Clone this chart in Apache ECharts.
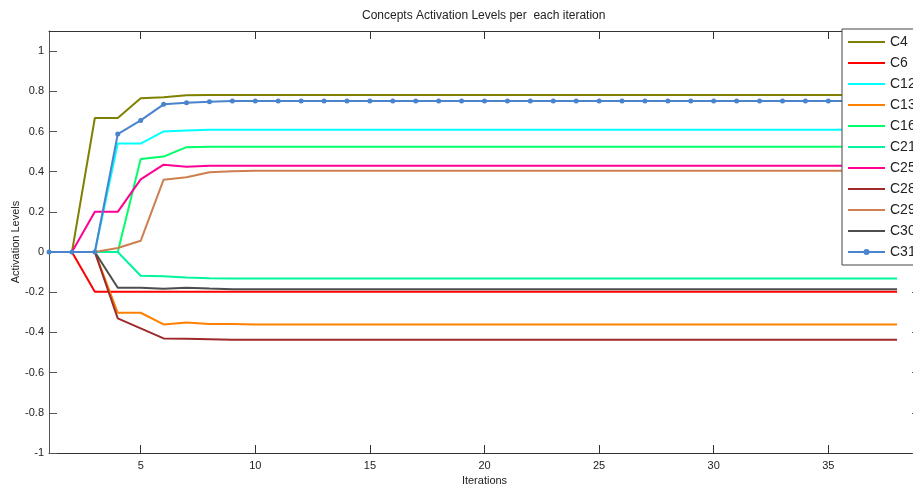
<!DOCTYPE html>
<html>
<head>
<meta charset="utf-8">
<script src="https://cdn.jsdelivr.net/npm/echarts@6/dist/echarts.min.js"></script>
<style>
html,body{margin:0;padding:0;background:#fff;}
#chart{width:913px;height:486px;}
</style>
</head>
<body>
<div id="chart"></div>
<script>
var iterations = [1,2,3,4,5,6,7,8,9,10,11,12,13,14,15,16,17,18,19,20,21,22,23,24,25,26,27,28,29,30,31,32,33,34,35,36,37,38];

var xTicks = [5,10,15,20,25,30,35];
var yTicks = [-1,-0.8,-0.6,-0.4,-0.2,0,0.2,0.4,0.6,0.8,1];

var C4 = [0,0,0.667,0.667,0.765,0.77,0.78,0.782,
  0.782,0.782,0.782,0.782,0.782,0.782,0.782,0.782,0.782,0.782,
  0.782,0.782,0.782,0.782,0.782,0.782,0.782,0.782,0.782,0.782,
  0.782,0.782,0.782,0.782,0.782,0.782,0.782,0.782,0.782,0.782];
var C6 = [0,0,-0.197,
  -0.197,-0.197,-0.197,-0.197,-0.197,-0.197,-0.197,-0.197,-0.197,-0.197,
  -0.197,-0.197,-0.197,-0.197,-0.197,-0.197,-0.197,-0.197,-0.197,-0.197,
  -0.197,-0.197,-0.197,-0.197,-0.197,-0.197,-0.197,-0.197,-0.197,-0.197,
  -0.197,-0.197,-0.197,-0.197,-0.197];
var C12 = [0,0,0,0.54,0.54,0.6,0.605,0.608,
  0.608,0.608,0.608,0.608,0.608,0.608,0.608,0.608,0.608,0.608,
  0.608,0.608,0.608,0.608,0.608,0.608,0.608,0.608,0.608,0.608,
  0.608,0.608,0.608,0.608,0.608,0.608,0.608,0.608,0.608,0.608];
var C13 = [0,0,0,-0.302,-0.302,-0.36,-0.35,-0.358,-0.358,
  -0.36,-0.36,-0.36,-0.36,-0.36,-0.36,-0.36,-0.36,-0.36,-0.36,
  -0.36,-0.36,-0.36,-0.36,-0.36,-0.36,-0.36,-0.36,-0.36,-0.36,
  -0.36,-0.36,-0.36,-0.36,-0.36,-0.36,-0.36,-0.36,-0.36];
var C16 = [0,0,0,0,0.463,0.475,0.522,0.524,
  0.524,0.524,0.524,0.524,0.524,0.524,0.524,0.524,0.524,0.524,
  0.524,0.524,0.524,0.524,0.524,0.524,0.524,0.524,0.524,0.524,
  0.524,0.524,0.524,0.524,0.524,0.524,0.524,0.524,0.524,0.524];
var C21 = [0,0,0,0,-0.118,-0.12,-0.127,-0.13,
  -0.132,-0.132,-0.132,-0.132,-0.132,-0.132,-0.132,-0.132,-0.132,-0.132,
  -0.132,-0.132,-0.132,-0.132,-0.132,-0.132,-0.132,-0.132,-0.132,-0.132,
  -0.132,-0.132,-0.132,-0.132,-0.132,-0.132,-0.132,-0.132,-0.132,-0.132];
var C25 = [0,0,0.2,0.2,0.362,0.435,0.425,0.43,
  0.43,0.43,0.43,0.43,0.43,0.43,0.43,0.43,0.43,0.43,
  0.43,0.43,0.43,0.43,0.43,0.43,0.43,0.43,0.43,0.43,
  0.43,0.43,0.43,0.43,0.43,0.43,0.43,0.43,0.43,0.43];
var C28 = [0,0,0,-0.33,-0.38,-0.43,-0.432,-0.434,-0.436,
  -0.437,-0.437,-0.437,-0.437,-0.437,-0.437,-0.437,-0.437,-0.437,-0.437,
  -0.437,-0.437,-0.437,-0.437,-0.437,-0.437,-0.437,-0.437,-0.437,-0.437,
  -0.437,-0.437,-0.437,-0.437,-0.437,-0.437,-0.437,-0.437,-0.437];
var C29 = [0,0,0,0.02,0.056,0.36,0.372,0.397,0.402,
  0.405,0.405,0.405,0.405,0.405,0.405,0.405,0.405,0.405,0.405,
  0.405,0.405,0.405,0.405,0.405,0.405,0.405,0.405,0.405,0.405,
  0.405,0.405,0.405,0.405,0.405,0.405,0.405,0.405,0.405];
var C30 = [0,0,0,-0.178,-0.178,-0.183,-0.178,-0.182,-0.185,
  -0.185,-0.185,-0.185,-0.185,-0.185,-0.185,-0.185,-0.185,-0.185,-0.185,
  -0.185,-0.185,-0.185,-0.185,-0.185,-0.185,-0.185,-0.185,-0.185,-0.185,
  -0.185,-0.185,-0.185,-0.185,-0.185,-0.185,-0.185,-0.185,-0.185];
var C31 = [0,0,0,0.587,0.655,0.735,0.743,0.748,0.752,
  0.752,0.752,0.752,0.752,0.752,0.752,0.752,0.752,0.752,0.752,
  0.752,0.752,0.752,0.752,0.752,0.752,0.752,0.752,0.752,0.752,
  0.752,0.752,0.752,0.752,0.752,0.752,0.752,0.752,0.752];

var seriesNames = ['C4','C6','C12','C13','C16','C21','C25','C28','C29','C30','C31'];
var seriesValues = [C4,C6,C12,C13,C16,C21,C25,C28,C29,C30,C31];
var seriesColors = ['#808000','#ff0000','#00ffff','#ff8000','#00ff6a','#00f59c','#ff0095','#9e2a2b','#cd7f4f','#4d4d4d','#4a84cc'];
var markedSeries = 'C31';

var FONT = '"Liberation Sans", Arial, sans-serif';
var LINE_ICON = 'path://M0,0H37V2H0Z';
var MARK_ICON = 'path://M0,2H15.8V4H0Z M21.2,2H37V4H21.2Z M15.5,3A3,3 0 1 1 21.5,3A3,3 0 1 1 15.5,3Z';

var series = seriesNames.map(function (name, i) {
  var isMarked = name === markedSeries;
  return {
    name: name,
    type: 'line',
    xAxisIndex: 0,
    yAxisIndex: 0,
    data: iterations.map(function (x, k) { return [x, seriesValues[i][k]]; }),
    symbol: isMarked ? 'circle' : 'none',
    symbolSize: 5,
    showSymbol: isMarked,
    lineStyle: { width: 2, color: seriesColors[i] },
    itemStyle: { color: seriesColors[i] },
    emphasis: { disabled: true },
    z: 2 + i * 0.01
  };
});

var legendData = seriesNames.map(function (name) {
  return { name: name, icon: name === markedSeries ? MARK_ICON : LINE_ICON };
});

function fmt(v) { return String(Math.round(v * 10) / 10); }

var chart = echarts.init(document.getElementById('chart'), null, { renderer: 'canvas' });
chart.setOption({
  animation: false,
  backgroundColor: '#ffffff',
  title: {
    text: 'Concepts Activation Levels per  each iteration',
    left: 362,
    top: 10,
    padding: 0,
    textStyle: { fontFamily: FONT, fontSize: 12, fontWeight: 'normal', color: '#222' }
  },
  legend: {
    orient: 'vertical',
    left: 842,
    top: 29,
    padding: [6, 40, 6, 6],
    itemWidth: 37,
    itemHeight: 14,
    itemGap: 7,
    symbolKeepAspect: true,
    borderColor: '#444',
    borderWidth: 1,
    backgroundColor: '#ffffff',
    borderRadius: 0,
    selectedMode: false,
    data: legendData,
    textStyle: { fontFamily: FONT, fontSize: 14, color: '#222' }
  },
  grid: { left: 49, top: 31, right: -7, bottom: 33, containLabel: false, outerBoundsMode: 'none' },
  xAxis: [{
    type: 'value',
    min: 1,
    max: 39,
    position: 'bottom',
    name: 'Iterations',
    nameLocation: 'middle',
    nameGap: 22,
    nameMoveOverlap: false,
    nameTextStyle: { fontFamily: FONT, fontSize: 11, color: '#222' },
    axisLine: { show: true, onZero: false, lineStyle: { color: '#333', width: 1 } },
    axisTick: { show: true, inside: true, length: 8, customValues: xTicks, lineStyle: { color: '#333' } },
    axisLabel: { show: true, customValues: xTicks, fontFamily: FONT, fontSize: 11, color: '#222', margin: 7 },
    splitLine: { show: false }
  }, {
    type: 'value',
    min: 1,
    max: 39,
    position: 'top',
    axisLine: { show: true, onZero: false, lineStyle: { color: '#333', width: 1 } },
    axisTick: { show: true, inside: true, length: 8, customValues: xTicks, lineStyle: { color: '#333' } },
    axisLabel: { show: false },
    splitLine: { show: false }
  }],
  yAxis: [{
    type: 'value',
    min: -1,
    max: 1.1,
    position: 'left',
    name: 'Activation Levels',
    nameLocation: 'middle',
    nameRotate: 90,
    nameGap: 28,
    nameMoveOverlap: false,
    nameTextStyle: { fontFamily: FONT, fontSize: 11, color: '#222' },
    axisLine: { show: true, onZero: false, lineStyle: { color: '#555', width: 1 } },
    axisTick: { show: true, inside: true, length: 8, customValues: yTicks, lineStyle: { color: '#555' } },
    axisLabel: { show: true, customValues: yTicks, formatter: fmt, fontFamily: FONT, fontSize: 11, color: '#222', margin: 5 },
    splitLine: { show: false }
  }, {
    type: 'value',
    min: -1,
    max: 1.1,
    position: 'right',
    axisLine: { show: true, onZero: false, lineStyle: { color: '#555', width: 1 } },
    axisTick: { show: true, inside: true, length: 8, customValues: yTicks, lineStyle: { color: '#555' } },
    axisLabel: { show: false },
    splitLine: { show: false }
  }],
  series: series
});
</script>
</body>
</html>
